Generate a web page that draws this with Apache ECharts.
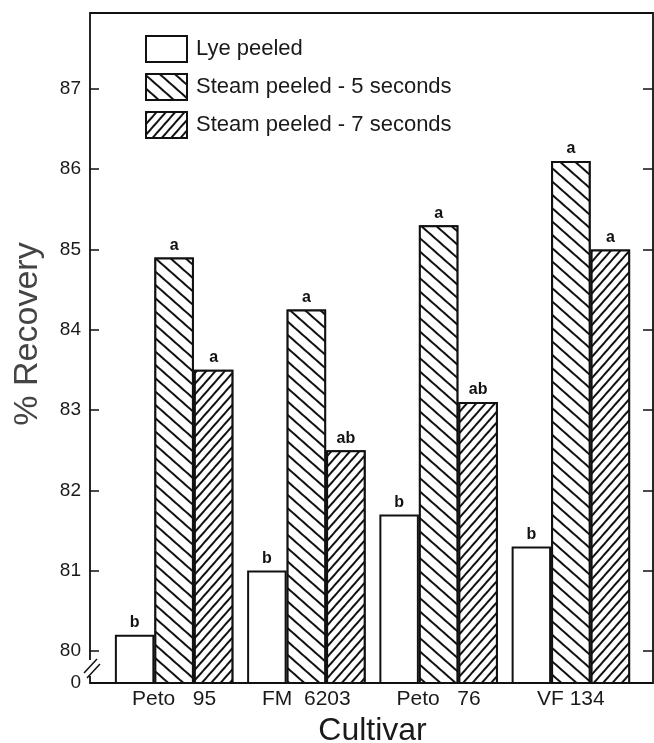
<!DOCTYPE html>
<html>
<head>
<meta charset="utf-8">
<script src="https://cdn.jsdelivr.net/npm/echarts@6/dist/echarts.min.js"></script>
<style>
  html, body { margin: 0; padding: 0; background: #fff; }
  #chart { width: 654px; height: 743px; }
</style>
</head>
<body>
<div id="chart"></div>
<script>
// values (% recovery)
const cultivars = ['Peto   95', 'FM  6203', 'Peto   76', 'VF 134'];
const lyePeeled = [80.2, 81.0, 81.7, 81.3];
const steam5 = [84.9, 84.25, 85.3, 86.1];
const steam7 = [83.5, 82.5, 83.1, 85.0];
const lyeLetters = ['b', 'b', 'b', 'b'];
const steam5Letters = ['a', 'a', 'a', 'a'];
const steam7Letters = ['a', 'ab', 'ab', 'a'];
const yTicks = [80, 81, 82, 83, 84, 85, 86, 87];
const yBase = 79.6; // broken axis: shown as 0

const FONT = 'Liberation Sans';

const chart = echarts.init(document.getElementById('chart'), null, { renderer: 'canvas' });

const hatch = (rot, gap) => ({
  symbol: 'rect',
  symbolSize: 1,
  color: '#111',
  backgroundColor: '#fff',
  dashArrayX: [1, 0],
  dashArrayY: [1.5, gap],
  rotation: rot
});

const letterLabel = (letters) => ({
  show: true,
  position: 'top',
  distance: 4,
  color: '#111',
  fontFamily: FONT,
  fontWeight: 'bold',
  fontSize: 16,
  formatter: (p) => letters[p.dataIndex]
});

const barStyle = (decal) => ({
  color: '#fff',
  borderColor: '#111',
  borderWidth: 2,
  decal: decal
});

const option = {
  backgroundColor: '#fff',
  animation: false,
  aria: { enabled: false },
  grid: { left: 108, right: 17, top: 13, bottom: 60, outerBoundsMode: 'none', containLabel: false },
  legend: {
    orient: 'vertical',
    left: 140,
    top: 30,
    itemWidth: 41,
    itemHeight: 26,
    itemGap: 10,
    icon: 'rect',
    textStyle: { fontFamily: FONT, fontSize: 22, color: '#1a1a1a', padding: [0, 0, 0, 4] },
    data: ['Lye peeled', 'Steam peeled - 5 seconds', 'Steam peeled - 7 seconds']
  },
  xAxis: {
    type: 'category',
    data: cultivars,
    axisLine: { show: false },
    axisTick: { show: false },
    axisLabel: { fontFamily: FONT, fontSize: 21, color: '#1a1a1a', margin: 6 },
    name: 'Cultivar',
    nameLocation: 'middle',
    nameGap: 30,
    nameTextStyle: { fontFamily: FONT, fontSize: 32, color: '#1a1a1a' }
  },
  yAxis: [{
    type: 'value',
    min: yBase,
    max: 87.944,
    offset: 18,
    splitLine: { show: false },
    axisLine: { show: false },
    axisTick: { show: true, inside: true, length: 9, lineStyle: { color: '#111', width: 1.5 }, customValues: yTicks },
    axisLabel: {
      fontFamily: FONT, fontSize: 19, color: '#1a1a1a', margin: 9,
      customValues: [yBase].concat(yTicks),
      formatter: (v) => (Math.abs(v - yBase) < 1e-6 ? '0' : String(v))
    },
    name: '% Recovery',
    nameLocation: 'middle',
    nameGap: 45,
    nameTextStyle: { fontFamily: FONT, fontSize: 34, color: '#444', padding: [0, 0, 0, 28] }
  }, {
    type: 'value',
    position: 'right',
    min: yBase,
    max: 87.944,
    offset: 16,
    splitLine: { show: false },
    axisLine: { show: false },
    axisTick: { show: true, inside: true, length: 10, lineStyle: { color: '#111', width: 1.5 }, customValues: yTicks },
    axisLabel: { show: false }
  }],
  graphic: [
    { type: 'rect', shape: { x: 90, y: 13, width: 563, height: 670 }, style: { fill: 'none', stroke: '#111', lineWidth: 1.8 }, z: 10 },
    { type: 'rect', shape: { x: 86, y: 660, width: 8, height: 16 }, style: { fill: '#fff' }, z: 11 },
    { type: 'line', shape: { x1: 84, y1: 673, x2: 97, y2: 659 }, style: { stroke: '#111', lineWidth: 1.5 }, z: 12 },
    { type: 'line', shape: { x1: 87, y1: 678, x2: 100, y2: 664 }, style: { stroke: '#111', lineWidth: 1.5 }, z: 12 }
  ],
  series: [{
    name: 'Lye peeled',
    type: 'bar',
    barWidth: 39.5,
    barGap: '0%',
    data: lyePeeled,
    itemStyle: barStyle(null),
    label: letterLabel(lyeLetters)
  }, {
    name: 'Steam peeled - 5 seconds',
    type: 'bar',
    barWidth: 39.5,
    barGap: '0%',
    data: steam5,
    itemStyle: barStyle(hatch(Math.PI * 0.23, 8)),
    label: letterLabel(steam5Letters)
  }, {
    name: 'Steam peeled - 7 seconds',
    type: 'bar',
    barWidth: 39.5,
    barGap: '0%',
    data: steam7,
    itemStyle: barStyle(hatch(-Math.PI * 0.27, 5)),
    label: letterLabel(steam7Letters)
  }]
};

chart.setOption(option);
</script>
</body>
</html>
